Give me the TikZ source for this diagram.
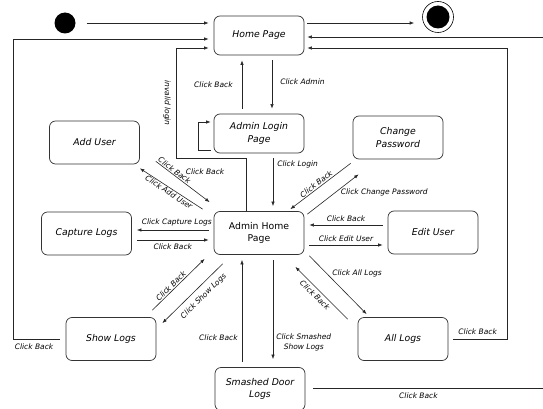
\documentclass[tikz,border=0pt]{standalone}
\usepackage{fontspec}
\setmainfont{DejaVu Sans}
\usetikzlibrary{arrows.meta}

\tikzset{
    page/.style={draw=black!80, line width=0.7pt, rounded corners=6pt, minimum width=90pt, minimum height=43pt, align=center, inner sep=2pt, font=\fontsize{9.3}{12.5}\selectfont\itshape},
    tr/.style={draw=black!85, line width=0.6pt, -{Latex[length=4.5pt,width=3.4pt]}},
    gap/.style={shorten <=5pt, shorten >=5pt},
    lbl/.style={font=\fontsize{7.5}{10}\selectfont\itshape, inner sep=1pt},
}

\begin{document}
\begin{tikzpicture}[x=1pt, y=-1pt]
    \useasboundingbox (0,0) rectangle (543,409);
    \node[fill, circle, minimum size=21pt, inner sep=0pt] (init) at (65,23) {};
    \node[draw, circle, line width=0.6pt, minimum size=31pt, inner sep=0pt, path picture={\fill (path picture bounding box.center) circle (11.5pt);}] (final) at (438,17) {};
    \node[page, minimum height=39pt] (home) at (259,35.5) {Home Page};
    \node[page, minimum height=39pt] (login) at (259,133.5) {Admin Login\\Page};
    \node[page, font=\fontsize{9.3}{12.5}\selectfont] (admin) at (259,233) {Admin Home\\Page};
    \node[page] (adduser) at (94.5,142.5) {Add User};
    \node[page] (capture) at (86.5,233.5) {Capture Logs};
    \node[page] (chpw) at (398,137.5) {Change\\Password};
    \node[page] (edit) at (433,232.5) {Edit User};
    \node[page] (alllogs) at (403,339) {All Logs};
    \node[page] (showlogs) at (111,339) {Show Logs};
    \node[page] (smashed) at (260,389) {Smashed Door\\Logs};

    \coordinate (rimL1) at (13,339);
    \coordinate (rimL2) at (13,39);
    \coordinate (rimA1) at (507,339);
    \coordinate (rimA2) at (507,48);
    \coordinate (rimS1) at (546,388);
    \coordinate (rimS2) at (546,37);
    \coordinate (inv1) at (176,158);
    \coordinate (inv2) at (176,48);

    % top row
    \draw[tr, shorten <=11pt, shorten >=5pt] (init) -- (init -| home.west);
    \draw[tr, shorten <=3pt, shorten >=8pt] ([yshift=12.5pt]home.east) -- ([yshift=12.5pt]home.east -| final.west);

    % long ways back to the home page
    \draw[tr, shorten <=8pt, shorten >=3pt] ([yshift=1pt]smashed.east) -- node[lbl, pos=0.47, below=3pt] {Click Back} (rimS1) -- (rimS2) -- (rimS2 -| home.east);
    \draw[tr, shorten <=5pt, shorten >=3pt] (alllogs.east) -- node[lbl, midway, above=3pt] {Click Back} (rimA1) -- (rimA2) -- (rimA2 -| home.east);
    \draw[tr, shorten <=6pt, shorten >=5pt] (showlogs.west) -- node[lbl, pos=0.6, below=3pt] {Click Back} (rimL1) -- (rimL2) -- (rimL2 -| home.west);
    \draw[tr, shorten >=5pt] ([xshift=-13pt]admin.north) |- (inv1) -- (inv2) -- (inv2 -| home.west);
    \node[lbl, rotate=-90] (invalid) at (167,103) {invalid login};

    % home and login
    \draw[tr, gap] ([xshift=-17pt]login.north) -- ([xshift=-17pt]login.north |- home.south) node[lbl, midway, left=8pt] {Click Back};
    \draw[tr, gap] ([xshift=13pt]home.south) -- ([xshift=13pt]home.south |- login.north) node[lbl, pos=0.45, right=7pt] {Click Admin};
    \draw[tr, shorten <=3pt, shorten >=3pt] ([yshift=-17pt]login.west) -- ++(-15pt,0) |- ([yshift=11.5pt]login.west);
    \draw[tr, gap] ([xshift=14pt]login.south) -- ([xshift=14pt]login.south |- admin.north) node[lbl, pos=0.2, right=3pt] {Click Login};

    % admin home page
    \draw[tr] ([xshift=16pt,yshift=3pt]adduser.south east) -- node[lbl, sloped, above, pos=0.3] {Click Back} ([xshift=-4pt,yshift=9pt]admin.north west);
    \draw[tr] ([xshift=-11pt,yshift=2pt]admin.north west) -- node[lbl, sloped, below, pos=0.5] {Click Add User} ([yshift=-4pt]adduser.south east);
    \node[lbl] (backlbl) at (205,172) {Click Back};
    \draw[tr, gap] ([yshift=3pt]admin.west) -- ([yshift=3pt]admin.west -| capture.east) node[lbl, pos=0.45, above=3pt] {Click Capture Logs};
    \draw[tr, gap] ([yshift=-6.5pt]capture.east) -- ([yshift=-6.5pt]capture.east -| admin.west) node[lbl, midway, below=3pt] {Click Back};
    \draw[tr] ([xshift=-2pt,yshift=-4pt]chpw.south west) -- node[lbl, sloped, above, pos=0.53] {Click Back} ([xshift=-14pt,yshift=2pt]admin.north east);
    \draw[tr] ([xshift=3pt,yshift=-3pt]admin.north east) -- node[lbl, pos=0.55, anchor=west, xshift=4pt] {Click Change Password} ([xshift=6pt,yshift=-15pt]chpw.south west);
    \draw[tr, gap] ([yshift=7.5pt]edit.west) -- ([yshift=7.5pt]edit.west -| admin.east) node[lbl, midway, above=2pt] {Click Back};
    \draw[tr, gap] ([yshift=-12pt]admin.east) -- ([yshift=-12pt]admin.east -| edit.west) node[lbl, midway, above=2pt] {Click Edit User};
    \draw[tr] ([xshift=5pt,yshift=-1pt]admin.south east) -- node[lbl, pos=0.31, anchor=west, xshift=4pt] {Click All Logs} ([xshift=9pt,yshift=3pt]alllogs.north west);
    \draw[tr] ([xshift=-10pt,yshift=-2pt]alllogs.north west) -- node[lbl, sloped, below=2pt, pos=0.54] {Click Back} ([xshift=-9pt,yshift=-12pt]admin.south east);
    \draw[tr, shorten <=5pt, shorten >=8pt] ([xshift=14pt]admin.south) -- ([xshift=14pt]admin.south |- smashed.north) node[lbl, pos=0.78, right=2pt, align=center] {Click Smashed\\Show Logs};
    \draw[tr, gap] ([xshift=-18pt]smashed.north) -- ([xshift=-18pt]smashed.north |- admin.south) node[lbl, pos=0.26, left=3pt] {Click Back};
    \draw[tr] ([xshift=-4pt,yshift=7pt]showlogs.north east) -- node[lbl, sloped, above, pos=0.41] {Click Back} ([xshift=-9pt,yshift=-4pt]admin.south west);
    \draw[tr] ([xshift=9pt,yshift=-9pt]admin.south west) -- node[lbl, sloped, below=5pt, pos=0.43] {Click Show Logs} ([xshift=6pt,yshift=-6pt]showlogs.north east);
\end{tikzpicture}
\end{document}
